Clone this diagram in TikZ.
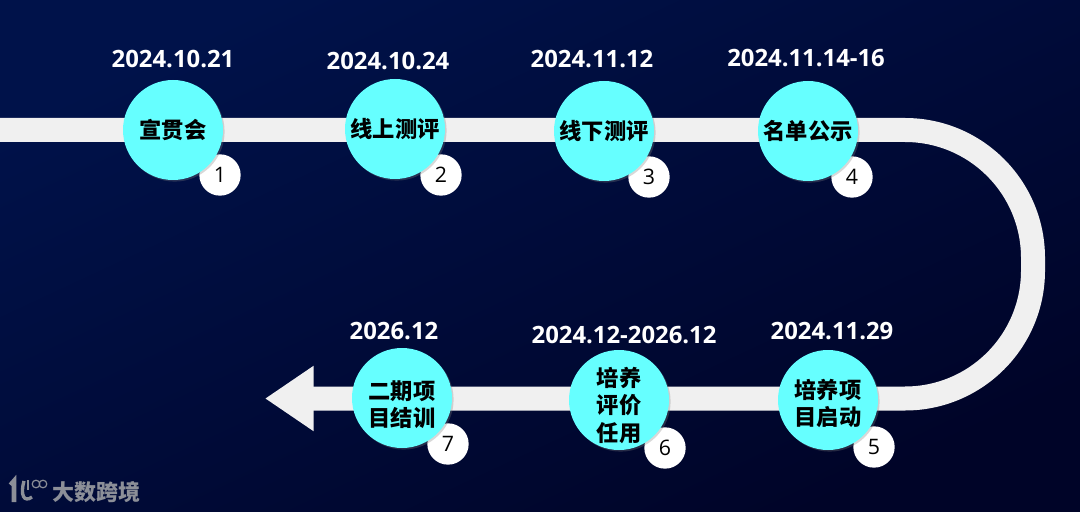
\documentclass[tikz,border=0pt]{standalone}
\usepackage{fontspec}
\setmainfont{Open Sans}
\newfontfamily\cjk{Noto Sans CJK SC}
\usetikzlibrary{arrows.meta,shadows}
\definecolor{stepcyan}{HTML}{66FFFF}
\definecolor{bandgray}{HTML}{F0F0F0}
\definecolor{logogray}{HTML}{8C8F98}
\definecolor{bgtop}{HTML}{00124A}
\definecolor{bgmiddle}{HTML}{000A36}
\definecolor{bgbottom}{HTML}{000428}
\newcommand{\steppad}[1]{\rule{0pt}{#1pt}}
\tikzset{
  band/.style={draw=bandgray, line width=18pt, -{Triangle[length=36.5pt, width=46.5pt, fill=bandgray]}},
  stepnode/.style={circle, fill=stepcyan, minimum size=75pt, inner sep=0pt, align=center,
    font=\cjk\bfseries\fontsize{16.7}{20.5}\selectfont, text=black,
    drop shadow={shadow xshift=1.2pt, shadow yshift=-1.2pt, opacity=.3}},
  badge/.style={circle, fill=white, minimum size=31pt, inner sep=0pt,
    font=\fontsize{16}{18}\selectfont, text=black},
  datelabel/.style={font=\bfseries\fontsize{17.9}{20}\selectfont, text=white}
}
\begin{document}
\begin{tikzpicture}[x=.75pt, y=.75pt]
            % background
            \shade[shading=axis, top color=bgtop, middle color=bgmiddle, bottom color=bgbottom, shading angle=25] (0,0) rectangle (1080,511);
            \useasboundingbox (0,0) rectangle (1080,511);
            % free ends of the band
            \coordinate (start) at (0,381);
            \coordinate (bendtop) at (905,381);
            \coordinate (tip) at (265,112.5);
            % band
            \draw[band] (start) -- (bendtop) arc[start angle=90, end angle=0, radius=128]
                -- ++(0,-12.5) arc[start angle=0, end angle=-90, radius=128] -- (tip);
            % number badges
            \node[badge] (badge1) at (220,336) {1};
            \node[badge] (badge2) at (441,336) {2};
            \node[badge] (badge3) at (649,334) {3};
            \node[badge] (badge4) at (852,334) {4};
            \node[badge] (badge5) at (874,64) {5};
            \node[badge] (badge6) at (665,63) {6};
            \node[badge] (badge7) at (448,67) {7};
            % upper steps
            \node[stepnode] (step1) at (173,381) {宣贯会};
            \node[stepnode] (step2) at (395,382) {线上测评};
            \node[stepnode] (step3) at (604,380) {线下测评};
            \node[stepnode] (step4) at (808,380) {名单公示};
            % lower steps
            \node[stepnode] (step5) at (828,111) {\steppad{20}培养项\\目启动};
            \node[stepnode] (step6) at (619,111) {\steppad{22.5}培养\\评价\\任用};
            \node[stepnode] (step7) at (402,113) {\steppad{24}二期项\\目结训};
            % dates
            \node[datelabel] (date1) at (173,452) {2024.10.21};
            \node[datelabel] (date2) at (388,450) {2024.10.24};
            \node[datelabel] (date3) at (592,452) {2024.11.12};
            \node[datelabel] (date4) at (806,453) {2024.11.14-16};
            \node[datelabel] (date5) at (832,180) {2024.11.29};
            \node[datelabel] (date6) at (624,176) {2024.12-2026.12};
            \node[datelabel] (date7) at (394,180) {2026.12};
            % logo
            \draw[logogray, line width=3.5pt] (10.5,26) -- (14,30) -- (14,9);
            \draw[logogray, line width=2.5pt] (24,30) .. controls (20,16) and (24,8) .. (32,14);
            \draw[logogray, line width=1pt] (28,31) -- (28,21);
            \draw[logogray, line width=.9pt] (36,27) circle[radius=3.8];
            \draw[logogray, line width=.9pt] (43,27) circle[radius=3.8];
            \node[text=logogray, font=\cjk\bfseries\fontsize{16.5}{18}\selectfont] (brand) at (96,19) {大数跨境};
        \end{tikzpicture}
\end{document}
